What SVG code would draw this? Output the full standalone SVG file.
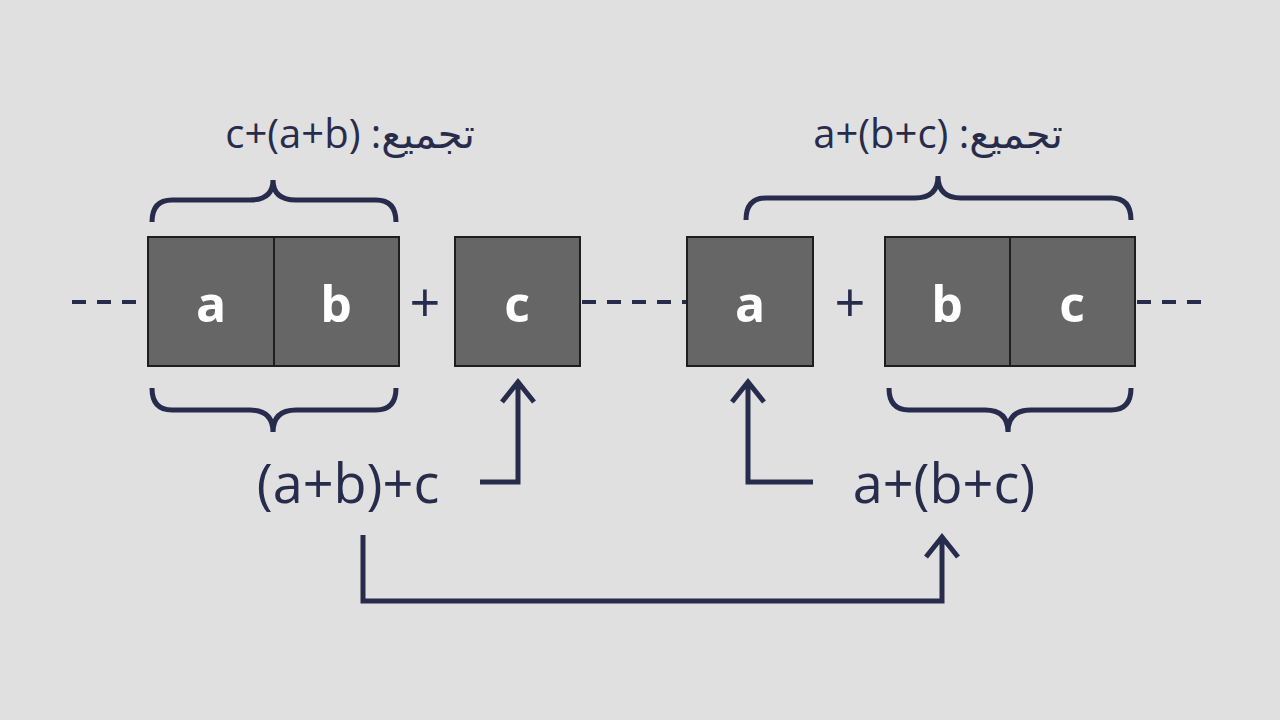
<svg xmlns="http://www.w3.org/2000/svg" width="1280" height="720" viewBox="0 0 1280 720">
<style>
.box{fill:#666666;stroke:#1e1e1e;stroke-width:2}
.bl{font-family:"Open Sans","DejaVu Sans",sans-serif;font-weight:bold;font-size:50px;fill:#fff;text-anchor:middle}
.ln{fill:none;stroke:#282c4c;stroke-width:5}
.dash{fill:none;stroke:#282c4c;stroke-width:4;stroke-dasharray:14,11}
.lab{font-family:"Open Sans","DejaVu Sans",sans-serif;font-size:54px;fill:#282c4c;text-anchor:middle}
.top{font-family:"Open Sans","DejaVu Sans",sans-serif;font-size:40px;fill:#282c4c;text-anchor:middle}
.pl{font-family:"Open Sans","DejaVu Sans",sans-serif;font-size:54px;fill:#282c4c;text-anchor:middle}
</style>
<defs><marker id="ah" viewBox="0 0 20 20" refX="10" refY="4" markerWidth="8" markerHeight="8" markerUnits="userSpaceOnUse" orient="auto-start-reverse"/></defs>
<rect width="1280" height="720" fill="#e0e0e0"/>
<g id="connectors">
<path class="dash" d="M72 302H148M582 302H687M1137 302H1212"/>
<path class="ln" d="M152 222Q152 200 172 200H250Q273 200 273 180Q273 200 296 200H376Q396 200 396 222"/>
<path class="ln" d="M152 388Q152 410 172 410H250Q273 410 273 432Q273 410 296 410H376Q396 410 396 388"/>
<path class="ln" d="M746 220Q746 198 766 198H915Q938 198 938 176Q938 198 961 198H1111Q1131 198 1131 220"/>
<path class="ln" d="M889 388Q889 410 909 410H985Q1008 410 1008 432Q1008 410 1031 410H1111Q1131 410 1131 388"/>
<path class="ln" d="M480 482H518V382M502 402L518 382L534 402"/>
<path class="ln" d="M813 482H748V382M732 402L748 382L764 402"/>
<path class="ln" d="M363 535V601H942V537M926 557L942 537L958 557"/>
</g>
<g id="left-a"><rect class="box" x="148" y="237" width="126" height="129"/><text class="bl" x="211" y="322">a</text></g>
<g id="left-b"><rect class="box" x="274" y="237" width="125" height="129"/><text class="bl" x="336" y="322">b</text></g>
<text class="pl" x="425" y="322">+</text>
<g id="left-c"><rect class="box" x="455" y="237" width="125" height="129"/><text class="bl" x="517" y="322">c</text></g>
<g id="right-a"><rect class="box" x="687" y="237" width="126" height="129"/><text class="bl" x="750" y="322">a</text></g>
<text class="pl" x="850" y="322">+</text>
<g id="right-b"><rect class="box" x="885" y="237" width="125" height="129"/><text class="bl" x="947" y="322">b</text></g>
<g id="right-c"><rect class="box" x="1010" y="237" width="125" height="129"/><text class="bl" x="1072" y="322">c</text></g>
<g id="label-left"><text class="lab" x="348" y="503">(a+b)+c</text></g>
<g id="label-right"><text class="lab" x="944" y="503">a+(b+c)</text></g>
<g id="top-left"><text class="top" x="350" y="148" direction="rtl">تجميع: (a+b)+c</text></g>
<g id="top-right"><text class="top" x="938" y="148" direction="rtl">تجميع: a+(b+c)</text></g>
</svg>
